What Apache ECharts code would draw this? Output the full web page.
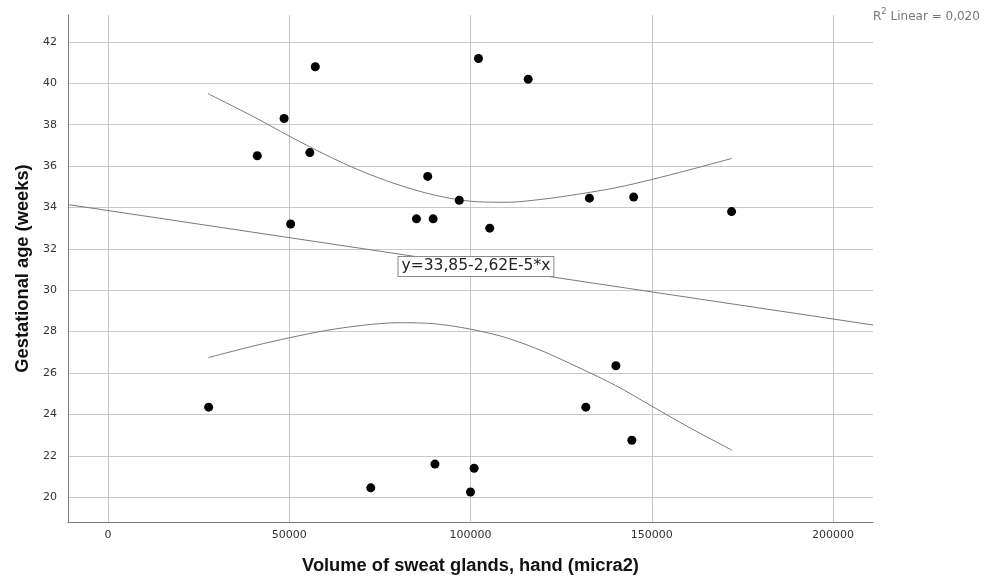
<!DOCTYPE html>
<html>
<head>
<meta charset="utf-8">
<script src="https://cdn.jsdelivr.net/npm/echarts@6/dist/echarts.min.js"></script>
<style>html,body{margin:0;padding:0;background:#fff;}#chart{width:989px;height:580px;}</style>
</head>
<body>
<div id="chart"></div>
<script>
// Scatter points (volume of sweat glands, gestational age)
const volumeValues = [57200, 102200, 115900, 48600, 41200, 55700, 88200, 96900, 50400, 85100, 89700, 105300, 132800, 145000, 172000, 27800, 131800, 144500, 90200, 101000, 72500, 100000, 140100];
const ageValues    = [40.8, 41.2, 40.2, 38.3, 36.5, 36.65, 35.5, 34.35, 33.2, 33.45, 33.45, 33.0, 34.45, 34.5, 33.8, 24.35, 24.35, 22.75, 21.6, 21.4, 20.45, 20.25, 26.35];

// Linear fit line endpoints
const fitX = [-11000, 211000];
const fitY = [34.14, 28.32];

// Upper confidence curve
const upperX = [27600, 40000, 50000, 60000, 70000, 80000, 90000, 100000, 110000, 120000, 130000, 140000, 150000, 160000, 172100];
const upperY = [39.5, 38.4, 37.45, 36.55, 35.75, 35.1, 34.6, 34.3, 34.25, 34.4, 34.65, 34.95, 35.35, 35.8, 36.37];

// Lower confidence curve
const lowerX = [27600, 40000, 50000, 60000, 70000, 80000, 90000, 100000, 110000, 120000, 130000, 140000, 150000, 160000, 172100];
const lowerY = [26.74, 27.3, 27.7, 28.05, 28.3, 28.43, 28.38, 28.12, 27.7, 27.05, 26.25, 25.4, 24.4, 23.4, 22.27];

const equationText = 'y=33,85-2,62E-5*x';
const equationPos = [101500, 31.15];
const r2Value = '0,020';

const zip = (xs, ys) => xs.map((x, i) => [x, ys[i]]);

const chart = echarts.init(document.getElementById('chart'), null, {renderer: 'canvas'});
const lineStyle = {color: '#7a7a7a', width: 1};
chart.setOption({
  animation: false,
  backgroundColor: '#ffffff',
  grid: {left: 68, right: 116, top: 15, bottom: 58, containLabel: false},
  xAxis: {
    type: 'value',
    min: -11000, max: 211000, splitNumber: 5,
    name: 'Volume of sweat glands, hand (micra2)',
    nameLocation: 'middle', nameGap: 35,
    nameTextStyle: {fontFamily: 'Liberation Sans', fontWeight: 'bold', fontSize: 18.3, color: '#111'},
    axisLine: {show: true, onZero: false, lineStyle: {color: '#7a7a7a', width: 1}},
    axisTick: {show: false},
    axisLabel: {fontFamily: 'DejaVu Sans', fontSize: 11, color: '#333', margin: 8, showMinLabel: false, showMaxLabel: false,
      formatter: v => String(v)},
    splitLine: {show: true, showMinLine: false, showMaxLine: false, lineStyle: {color: '#c8c8c8', width: 1}}
  },
  yAxis: {
    type: 'value',
    min: 18.8, max: 43.3, splitNumber: 12,
    name: 'Gestational age (weeks)',
    nameLocation: 'middle', nameGap: 35,
    nameTextStyle: {fontFamily: 'Liberation Sans', fontWeight: 'bold', fontSize: 18.3, color: '#111'},
    axisLine: {show: true, onZero: false, lineStyle: {color: '#7a7a7a', width: 1}},
    axisTick: {show: false},
    axisLabel: {fontFamily: 'DejaVu Sans', fontSize: 11, color: '#333', margin: 11, showMinLabel: false, showMaxLabel: false},
    splitLine: {show: true, showMinLine: false, showMaxLine: false, lineStyle: {color: '#c8c8c8', width: 1}}
  },
  graphic: [{
    type: 'text',
    left: 873, top: 7,
    style: {
      text: '{r|R}{s|2}{t| Linear = ' + r2Value + '}',
      rich: {
        r: {fontFamily: 'DejaVu Sans', fontSize: 12, fill: '#777', verticalAlign: 'bottom'},
        s: {fontFamily: 'DejaVu Sans', fontSize: 8.5, fill: '#777', verticalAlign: 'top', padding: [0, 0, 7, 0]},
        t: {fontFamily: 'DejaVu Sans', fontSize: 12, fill: '#777', verticalAlign: 'bottom'}
      }
    }
  }],
  series: [
    {
      type: 'line', data: zip(fitX, fitY), showSymbol: false, symbol: 'none',
      lineStyle: lineStyle, silent: true, z: 2,
      markPoint: {
        symbol: 'rect', symbolSize: 1, itemStyle: {color: 'rgba(0,0,0,0)'},
        data: [{coord: equationPos, value: equationText}],
        label: {
          show: true, position: 'inside', formatter: equationText,
          fontFamily: 'DejaVu Sans', fontSize: 15.5, color: '#222',
          backgroundColor: '#fff', borderColor: '#8a8a8a', borderWidth: 1,
          padding: [2, 3, 1, 3]
        }
      }
    },
    {type: 'line', data: zip(upperX, upperY), smooth: 0.3, showSymbol: false, symbol: 'none', lineStyle: lineStyle, silent: true, z: 2},
    {type: 'line', data: zip(lowerX, lowerY), smooth: 0.3, showSymbol: false, symbol: 'none', lineStyle: lineStyle, silent: true, z: 2},
    {type: 'scatter', data: zip(volumeValues, ageValues), symbol: 'circle', symbolSize: 9, itemStyle: {color: '#000', opacity: 1}, z: 3}
  ]
});
</script>
</body>
</html>
